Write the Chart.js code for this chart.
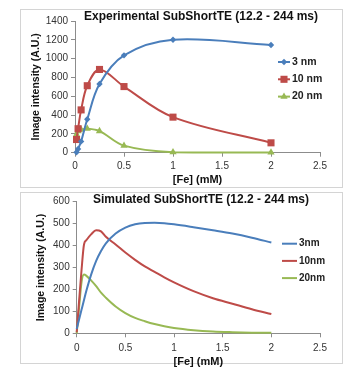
<!DOCTYPE html>
<html>
<head>
<meta charset="utf-8">
<script src="https://cdn.jsdelivr.net/npm/chart.js@4/dist/chart.umd.min.js"></script>
<style>
  body { margin: 0; background: #fff; width: 349px; height: 367px; position: relative; overflow: hidden; }
  .box { position: absolute; border: 1px solid #d4d4d4; box-sizing: border-box; }
  canvas { position: absolute; left: 0; }
</style>
</head>
<body>
<div class="box" style="left:20px;top:9px;width:323px;height:179px"></div>
<div class="box" style="left:20px;top:192px;width:323px;height:172px"></div>
<canvas id="expChart" width="349" height="190" style="top:0"></canvas>
<canvas id="simChart" width="349" height="177" style="top:190px"></canvas>
<script>
// ---- data ----
const feTicks = [0, 0.5, 1, 1.5, 2, 2.5];
const expTicks = [0, 200, 400, 600, 800, 1000, 1200, 1400];
const simTicks = [0, 100, 200, 300, 400, 500, 600];

// experimental, [Fe] in mM
const expConc = [0.015625, 0.03125, 0.0625, 0.125, 0.25, 0.5, 1, 2];
const exp3nm  = [5, 40, 120, 355, 730, 1035, 1200, 1145];
const exp10nm = [140, 255, 455, 712, 885, 703, 378, 105];
const exp20nm = [195, 230, 245, 255, 230, 75, 5, 3];

// simulated
const simConc = [0, 0.025, 0.05, 0.075, 0.1, 0.15, 0.2, 0.25, 0.3, 0.4, 0.5, 0.6, 0.7, 0.8, 0.9, 1.0, 1.2, 1.4, 1.6, 1.8, 2.0];
const sim3nm  = [20, 64, 108, 152, 195, 270, 330, 375, 410, 455, 482, 497, 503, 504, 502, 497, 484, 470, 455, 436, 414];
const sim10nm = [5, 150, 290, 405, 425, 452, 470, 465, 440, 405, 368, 335, 305, 280, 255, 232, 192, 160, 135, 110, 88];
const sim20nm = [0, 120, 235, 268, 262, 240, 215, 185, 162, 122, 92, 70, 55, 42, 32, 24, 14, 8, 5, 3, 2];

const blue = '#4A7EBB', red = '#BE4B48', green = '#98B954';
const axisGray = '#8c8c8c';
const FONT = '"Liberation Sans", Arial, sans-serif';
Chart.defaults.font.family = FONT;

const pairs = (xs, ys) => xs.map((x, i) => ({x: x, y: ys[i]}));

function drawMarker(ctx, style, x, y, r) {
  ctx.beginPath();
  if (style === 'rectRot') {
    ctx.moveTo(x, y - r); ctx.lineTo(x + r, y); ctx.lineTo(x, y + r); ctx.lineTo(x - r, y);
  } else if (style === 'rect') {
    const s = r * Math.SQRT1_2;
    ctx.rect(x - s, y - s, 2 * s, 2 * s);
  } else if (style === 'triangle') {
    ctx.moveTo(x, y - r);
    ctx.lineTo(x + r * Math.sin(2 * Math.PI / 3), y - r * Math.cos(2 * Math.PI / 3));
    ctx.lineTo(x + r * Math.sin(4 * Math.PI / 3), y - r * Math.cos(4 * Math.PI / 3));
  }
  ctx.closePath();
  ctx.fill();
}

const boxTitle = {
  id: 'boxTitle',
  afterDraw(chart, args, o) {
    const ctx = chart.ctx;
    ctx.save();
    ctx.font = 'bold ' + o.size + 'px ' + FONT;
    ctx.fillStyle = '#111';
    ctx.textAlign = 'center';
    ctx.textBaseline = 'middle';
    ctx.fillText(o.text, o.x, o.y);
    ctx.restore();
  }
};

const sideLegend = {
  id: 'sideLegend',
  afterDraw(chart, args, o) {
    const ctx = chart.ctx;
    ctx.save();
    ctx.font = 'bold ' + o.size + 'px ' + FONT;
    ctx.textBaseline = 'middle';
    chart.data.datasets.forEach((ds, i) => {
      const y = o.y + i * o.dy;
      ctx.strokeStyle = ds.borderColor;
      ctx.lineWidth = 2;
      ctx.beginPath();
      ctx.moveTo(o.x, y); ctx.lineTo(o.x + o.len, y);
      ctx.stroke();
      if (o.markers) {
        ctx.fillStyle = ds.borderColor;
        drawMarker(ctx, ds.pointStyle, o.x + o.len / 2, y, ds.pointRadius);
      }
      ctx.fillStyle = '#222';
      ctx.fillText(ds.label, o.x + o.len + o.gap, y);
    });
    ctx.restore();
  }
};

function xAxis(h, pad, titleLH) {
  return {
    type: 'linear', min: 0, max: 2.5,
    afterBuildTicks: s => { s.ticks = feTicks.map(v => ({value: v})); },
    afterFit: s => { s.height = h; },
    grid: {display: true, drawOnChartArea: false, drawTicks: true, tickLength: 4, color: axisGray},
    border: {display: true, color: axisGray, width: 1},
    ticks: {padding: pad, color: '#333', font: {size: 10}, maxRotation: 0, autoSkip: false, callback: v => String(v)},
    title: {display: true, text: '[Fe] (mM)', color: '#111', padding: 0, font: {size: 11, weight: 'bold', lineHeight: titleLH}}
  };
}

function yAxis(max, ticks, w) {
  return {
    min: 0, max: max,
    afterBuildTicks: s => { s.ticks = ticks.map(v => ({value: v})); },
    afterFit: s => { s.width = w; },
    grid: {display: true, drawOnChartArea: false, drawTicks: true, tickLength: 4, color: axisGray},
    border: {display: true, color: axisGray, width: 1},
    ticks: {padding: 3, color: '#333', font: {size: 10}, callback: v => String(v)},
    title: {display: true, text: 'Image intensity (A.U.)', color: '#111', padding: 0, font: {size: 10.5, weight: 'bold', lineHeight: 1.2}}
  };
}

const expSet = (label, ys, color, style, r) => ({
  label: label, data: pairs(expConc, ys), borderColor: color, backgroundColor: color,
  borderWidth: 2, pointStyle: style, pointRadius: r, pointHoverRadius: r, pointBorderWidth: 0,
  tension: 0.35, clip: false
});
const simSet = (label, ys, color) => ({
  label: label, data: pairs(simConc, ys), borderColor: color, backgroundColor: color,
  borderWidth: 2, pointRadius: 0, cubicInterpolationMode: 'monotone', clip: false
});

new Chart(document.getElementById('expChart'), {
  type: 'line',
  data: {datasets: [
    expSet('3 nm', exp3nm, blue, 'rectRot', 3.2),
    expSet('10 nm', exp10nm, red, 'rect', 5),
    expSet('20 nm', exp20nm, green, 'triangle', 4.2)
  ]},
  options: {
    responsive: false, animation: false, events: [],
    layout: {padding: {left: 30.2, right: 29, top: 21, bottom: 3.7}},
    scales: {x: xAxis(33.6, 3.3, 1.2), y: yAxis(1400, expTicks, 44.8)},
    plugins: {
      legend: {display: false}, tooltip: {enabled: false},
      boxTitle: {text: 'Experimental SubShortTE (12.2 - 244 ms)', x: 201, y: 17, size: 12},
      sideLegend: {x: 278, y: 62, dy: 17.3, len: 12, gap: 2, size: 10.5, markers: true}
    }
  },
  plugins: [boxTitle, sideLegend]
});

new Chart(document.getElementById('simChart'), {
  type: 'line',
  data: {datasets: [
    simSet('3nm', sim3nm, blue),
    simSet('10nm', sim10nm, red),
    simSet('20nm', sim20nm, green)
  ]},
  options: {
    responsive: false, animation: false, events: [],
    layout: {padding: {left: 35.2, right: 29, top: 11.7, bottom: 0}},
    scales: {x: xAxis(33.7, 4.7, 1.0), y: yAxis(600, simTicks, 41.5)},
    plugins: {
      legend: {display: false}, tooltip: {enabled: false},
      boxTitle: {text: 'Simulated SubShortTE (12.2 - 244 ms)', x: 201, y: 10, size: 12},
      sideLegend: {x: 282, y: 53.7, dy: 17.2, len: 15, gap: 2, size: 10, markers: false}
    }
  },
  plugins: [boxTitle, sideLegend]
});
</script>
</body>
</html>
